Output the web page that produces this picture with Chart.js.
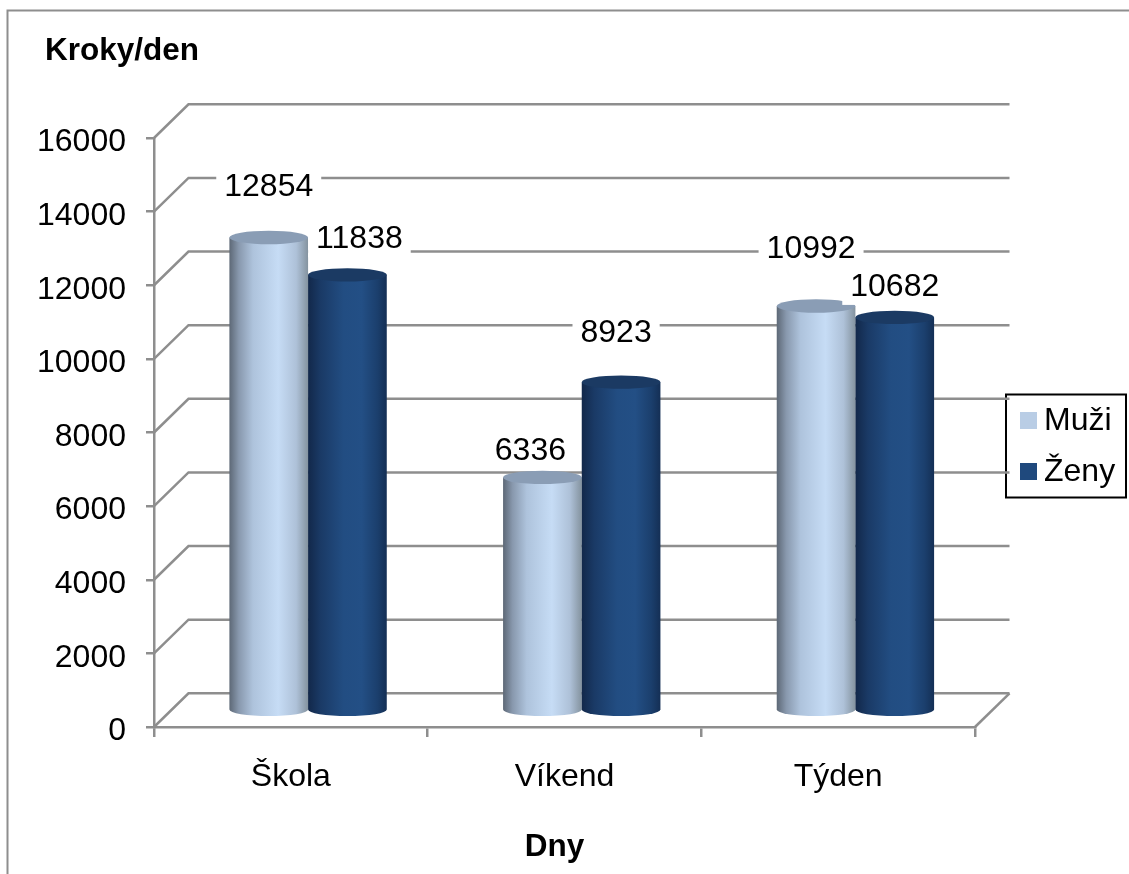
<!DOCTYPE html>
<html lang="cs">
<head>
<meta charset="utf-8">
<title>Kroky/den</title>
<style>
  html, body { margin: 0; padding: 0; background: #fff; }
  canvas { display: block; }
</style>
<script src="https://cdn.jsdelivr.net/npm/chart.js@4/dist/chart.umd.min.js"></script>
</head>
<body>
<canvas id="steps" width="1129" height="874"></canvas>
<script>
const categories = ['Škola', 'Víkend', 'Týden'];
const menSteps = [12854, 6336, 10992];
const womenSteps = [11838, 8923, 10682];
const seriesNames = ['Muži', 'Ženy'];
const yTitle = 'Kroky/den';
const xTitle = 'Dny';

const FONT = '"Liberation Sans", Arial, sans-serif';
const TEXT = 32;
const HEADING = 31.5;
const GREY = '#8e8e8e';
const LINE = 2.5;
const DEPTH = { x: 34.5, y: 33.7 };

// Per-bar offsets that keep each value label clear of its neighbours: [dx, dy from bar top]
const labelOffsets = [
  [[0, -53], [-12, -29], [-5, -59]],
  [[12, -38], [-5, -52], [0, -33]]
];

const sideStops = [
  [[0, '#5d6876'], [0.12, '#8898ad'], [0.3, '#aec3dc'], [0.62, '#c6dcf5'], [0.85, '#aec1d8'], [1, '#84939f']],
  [[0, '#12284a'], [0.16, '#1a3a66'], [0.45, '#224d82'], [0.68, '#234f85'], [0.88, '#1b3f6d'], [1, '#142f55']]
];
const capColors = ['#8a9db5', '#1b3a63'];

function drawCylinder(ctx, bar, seriesIndex) {
  const cx = bar.x + DEPTH.x / 2;
  const half = bar.width / 2;
  const top = bar.y - DEPTH.y / 2 + 0.5;
  const bottom = bar.base - DEPTH.y / 2 + 0.5;
  const ry = half * 0.17;
  const grad = ctx.createLinearGradient(cx - half, 0, cx + half, 0);
  sideStops[seriesIndex].forEach(([at, color]) => grad.addColorStop(at, color));
  ctx.beginPath();
  ctx.moveTo(cx - half, top);
  ctx.lineTo(cx - half, bottom);
  ctx.ellipse(cx, bottom, half, ry, 0, Math.PI, 0, true);
  ctx.lineTo(cx + half, top);
  ctx.closePath();
  ctx.fillStyle = grad;
  ctx.fill();
  ctx.beginPath();
  ctx.ellipse(cx, top, half, ry, 0, 0, Math.PI * 2);
  ctx.fillStyle = capColors[seriesIndex];
  ctx.fill();
}

const cylinderChart = {
  id: 'cylinderChart',
  beforeDraw(chart) {
    const { ctx, width, height, scales: { x, y } } = chart;
    ctx.save();
    // Outer frame, open at the right and bottom edges
    ctx.strokeStyle = GREY;
    ctx.lineWidth = 2;
    ctx.beginPath();
    ctx.moveTo(7.5, height);
    ctx.lineTo(7.5, 10.5);
    ctx.lineTo(width, 10.5);
    ctx.stroke();
    // Headings of both axes
    ctx.fillStyle = '#000';
    ctx.font = `bold ${HEADING}px ${FONT}`;
    ctx.textBaseline = 'middle';
    ctx.textAlign = 'left';
    ctx.fillText(yTitle, 45, 51);
    ctx.textAlign = 'center';
    ctx.fillText(xTitle, 554.5, 847);
    // Value axis labels sit slightly below their tick marks
    ctx.font = `${TEXT}px ${FONT}`;
    ctx.textAlign = 'right';
    y.ticks.forEach(tick => {
      ctx.fillText(tick.label, x.left - 28, y.getPixelForValue(tick.value) + 4.5);
    });
    // Legend
    ctx.textAlign = 'left';
    ctx.strokeStyle = '#000';
    ctx.lineWidth = 2;
    ctx.strokeRect(1006, 394.5, 120, 103);
    chart.data.datasets.forEach((ds, i) => {
      const rowY = 420.5 + i * 51;
      ctx.fillStyle = ds.backgroundColor;
      ctx.fillRect(1020, rowY - 8.5, 17, 17);
      ctx.fillStyle = '#000';
      ctx.fillText(ds.label, 1044, rowY + 1);
    });
    ctx.restore();
  },
  beforeDatasetsDraw(chart) {
    const { ctx, scales: { x, y } } = chart;
    ctx.save();
    ctx.strokeStyle = GREY;
    ctx.lineWidth = LINE;
    // Side wall, back wall and floor edges, one per value tick
    y.ticks.forEach(tick => {
      const py = y.getPixelForValue(tick.value);
      ctx.beginPath();
      ctx.moveTo(x.left, py);
      ctx.lineTo(x.left + DEPTH.x, py - DEPTH.y);
      ctx.lineTo(x.right + DEPTH.x, py - DEPTH.y);
      ctx.stroke();
    });
    const floor = y.getPixelForValue(0);
    ctx.beginPath();
    ctx.moveTo(x.right, floor);
    ctx.lineTo(x.right + DEPTH.x, floor - DEPTH.y);
    ctx.stroke();
    ctx.restore();
  },
  // The flat bars are replaced by the cylinders below
  beforeDatasetDraw() {
    return false;
  },
  afterDatasetsDraw(chart) {
    const { ctx } = chart;
    ctx.save();
    chart.data.datasets.forEach((ds, s) => {
      chart.getDatasetMeta(s).data.forEach(bar => drawCylinder(ctx, bar, s));
    });
    ctx.font = `${TEXT}px ${FONT}`;
    ctx.textAlign = 'center';
    ctx.textBaseline = 'middle';
    chart.data.datasets.forEach((ds, s) => {
      chart.getDatasetMeta(s).data.forEach((bar, i) => {
        const [dx, dy] = labelOffsets[s][i];
        const lx = bar.x + DEPTH.x / 2 + dx;
        const ly = bar.y - DEPTH.y / 2 + dy;
        const text = String(ds.data[i]);
        const w = ctx.measureText(text).width + 16;
        ctx.fillStyle = '#fff';
        ctx.fillRect(lx - w / 2, ly - 21, w, 42);
        ctx.fillStyle = '#000';
        ctx.fillText(text, lx, ly + 3);
      });
    });
    ctx.restore();
  }
};

new Chart(document.getElementById('steps'), {
  type: 'bar',
  data: {
    labels: categories,
    datasets: [
      { label: seriesNames[0], data: menSteps, backgroundColor: '#b9cde5' },
      { label: seriesNames[1], data: womenSteps, backgroundColor: '#1f497d' }
    ]
  },
  options: {
    responsive: false,
    animation: false,
    events: [],
    layout: { padding: { left: 0, top: 138, right: 154, bottom: 0 } },
    categoryPercentage: 0.575,
    barPercentage: 1,
    plugins: { legend: { display: false }, tooltip: { enabled: false }, title: { display: false } },
    scales: {
      x: {
        afterFit(scale) { scale.height = 147; },
        border: { color: GREY, width: LINE },
        grid: { drawOnChartArea: false, color: GREY, lineWidth: LINE, tickLength: 10 },
        ticks: { color: '#000', font: { family: FONT, size: TEXT }, padding: 21, maxRotation: 0 }
      },
      y: {
        min: 0,
        max: 16000,
        afterFit(scale) { scale.width = 154; },
        border: { color: GREY, width: LINE },
        grid: { drawOnChartArea: false, color: GREY, lineWidth: LINE, tickLength: 8 },
        ticks: { display: false, stepSize: 2000, callback: value => String(value) }
      }
    }
  },
  plugins: [cylinderChart]
});
</script>
</body>
</html>
